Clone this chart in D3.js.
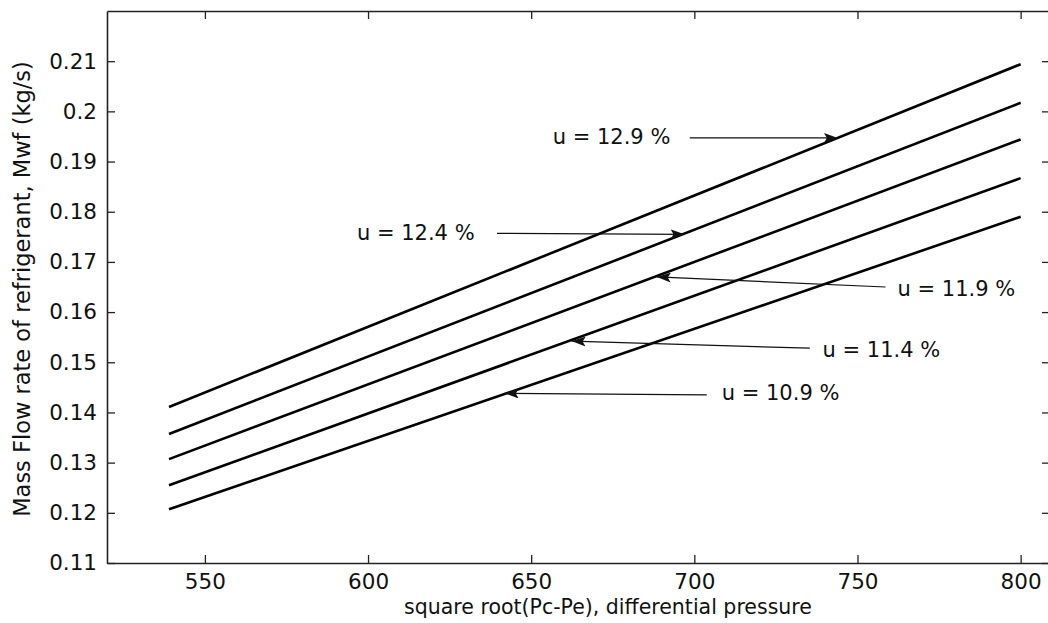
<!DOCTYPE html>
<html>
<head>
<meta charset="utf-8">
<script src="https://cdn.jsdelivr.net/npm/d3@7"></script>
<style>
    body { margin: 0; background: #fff; }
    svg text { font-family: "DejaVu Sans", sans-serif; fill: #111; }
</style>
</head>
<body>
<svg id="chart"></svg>
<script>
// x range covered by every curve
const xStart = 539;
const xEnd = 800;

// one curve per moisture content u
const seriesLabels = ['u = 12.9 %', 'u = 12.4 %', 'u = 11.9 %', 'u = 11.4 %', 'u = 10.9 %'];
const flowAtStart = [0.1411, 0.1357, 0.1307, 0.1255, 0.1207];
const flowAtEnd = [0.2094, 0.2017, 0.1944, 0.1867, 0.1790];

// tick values
const xTicks = [550, 600, 650, 700, 750, 800];
const yTicks = [0.11, 0.12, 0.13, 0.14, 0.15, 0.16, 0.17, 0.18, 0.19, 0.2, 0.21];

// annotation text and arrows, in data units
const labelX = [656.6, 596.6, 762.3, 739.3, 708.4];
const labelY = [0.1949, 0.1759, 0.1646, 0.1526, 0.1439];
const arrowTailX = [698.6, 639.5, 758.6, 735.4, 703.8];
const arrowTailY = [0.1947, 0.1757, 0.1650, 0.1528, 0.1435];
const arrowTipX = [744, 697, 688.5, 662.4, 641.9];
const arrowTipY = [0.1947, 0.1755, 0.1670, 0.1542, 0.1438];

const width = 1048, height = 623;
const plot = { left: 107, right: 1050, top: 11, bottom: 563 };

const svg = d3.select('#chart')
    .attr('width', width)
    .attr('height', height);

// scales
const x = d3.scaleLinear().domain([520, 809]).range([plot.left, plot.right]);
const y = d3.scaleLinear().domain([0.11, 0.22]).range([plot.bottom, plot.top]);

// arrow head in the matlab annotation style
svg.append('defs').append('marker')
    .attr('id', 'head')
    .attr('markerUnits', 'userSpaceOnUse')
    .attr('viewBox', '0 0 14 10')
    .attr('refX', 14)
    .attr('refY', 5)
    .attr('markerWidth', 14)
    .attr('markerHeight', 10)
    .attr('orient', 'auto')
    .append('path')
    .attr('d', 'M0,0 L14,5 L0,10 L3,5 Z')
    .attr('fill', '#111');

// axes, ticks pointing inwards on all four sides
const fmtY = d => String(+d.toFixed(2));

const styleAxis = g => {
    g.selectAll('.domain').attr('stroke', '#222').attr('stroke-width', 1.6);
    g.selectAll('.tick line').attr('stroke', '#222').attr('stroke-width', 1.3);
    g.selectAll('.tick text').attr('font-size', 21.5).attr('font-family', null).attr('fill', '#111');
};

svg.append('g')
    .attr('transform', `translate(0,${plot.bottom})`)
    .call(d3.axisBottom(x).tickValues(xTicks).tickSize(-8).tickSizeOuter(0).tickPadding(11))
    .call(styleAxis);

svg.append('g')
    .attr('transform', `translate(0,${plot.top})`)
    .call(d3.axisTop(x).tickValues(xTicks).tickSize(-8).tickSizeOuter(0).tickFormat(''))
    .call(styleAxis);

svg.append('g')
    .attr('transform', `translate(${plot.left},0)`)
    .call(d3.axisLeft(y).tickValues(yTicks).tickSize(-8).tickSizeOuter(0).tickPadding(10).tickFormat(fmtY))
    .call(styleAxis);

svg.append('g')
    .attr('transform', `translate(${plot.right},0)`)
    .call(d3.axisRight(y).tickValues(yTicks).tickSize(-8).tickSizeOuter(0).tickFormat(''))
    .call(styleAxis);

// curves
const line = d3.line().x(d => x(d[0])).y(d => y(d[1]));
const series = seriesLabels.map((s, i) => [[xStart, flowAtStart[i]], [xEnd, flowAtEnd[i]]]);

svg.append('g')
    .selectAll('path')
    .data(series)
    .join('path')
    .attr('d', line)
    .attr('fill', 'none')
    .attr('stroke', '#000')
    .attr('stroke-width', 2.6);

// annotation arrows
svg.append('g')
    .selectAll('line')
    .data(seriesLabels)
    .join('line')
    .attr('x1', (d, i) => x(arrowTailX[i]))
    .attr('y1', (d, i) => y(arrowTailY[i]))
    .attr('x2', (d, i) => x(arrowTipX[i]))
    .attr('y2', (d, i) => y(arrowTipY[i]))
    .attr('stroke', '#111')
    .attr('stroke-width', 1.2)
    .attr('marker-end', 'url(#head)');

// annotation text
svg.append('g')
    .selectAll('text')
    .data(seriesLabels)
    .join('text')
    .attr('x', (d, i) => x(labelX[i]))
    .attr('y', (d, i) => y(labelY[i]))
    .attr('dy', '0.35em')
    .attr('font-size', 21)
    .text(d => d);

// axis titles
svg.append('text')
    .attr('x', 608)
    .attr('y', 614)
    .attr('text-anchor', 'middle')
    .attr('font-size', 20.5)
    .text('square root(Pc-Pe), differential pressure');

svg.append('text')
    .attr('transform', `translate(22,${(plot.top + plot.bottom) / 2 + 2}) rotate(-90)`)
    .attr('text-anchor', 'middle')
    .attr('dy', '0.35em')
    .attr('font-size', 22.5)
    .text('Mass Flow rate of refrigerant, Mwf (kg/s)');
</script>
</body>
</html>
